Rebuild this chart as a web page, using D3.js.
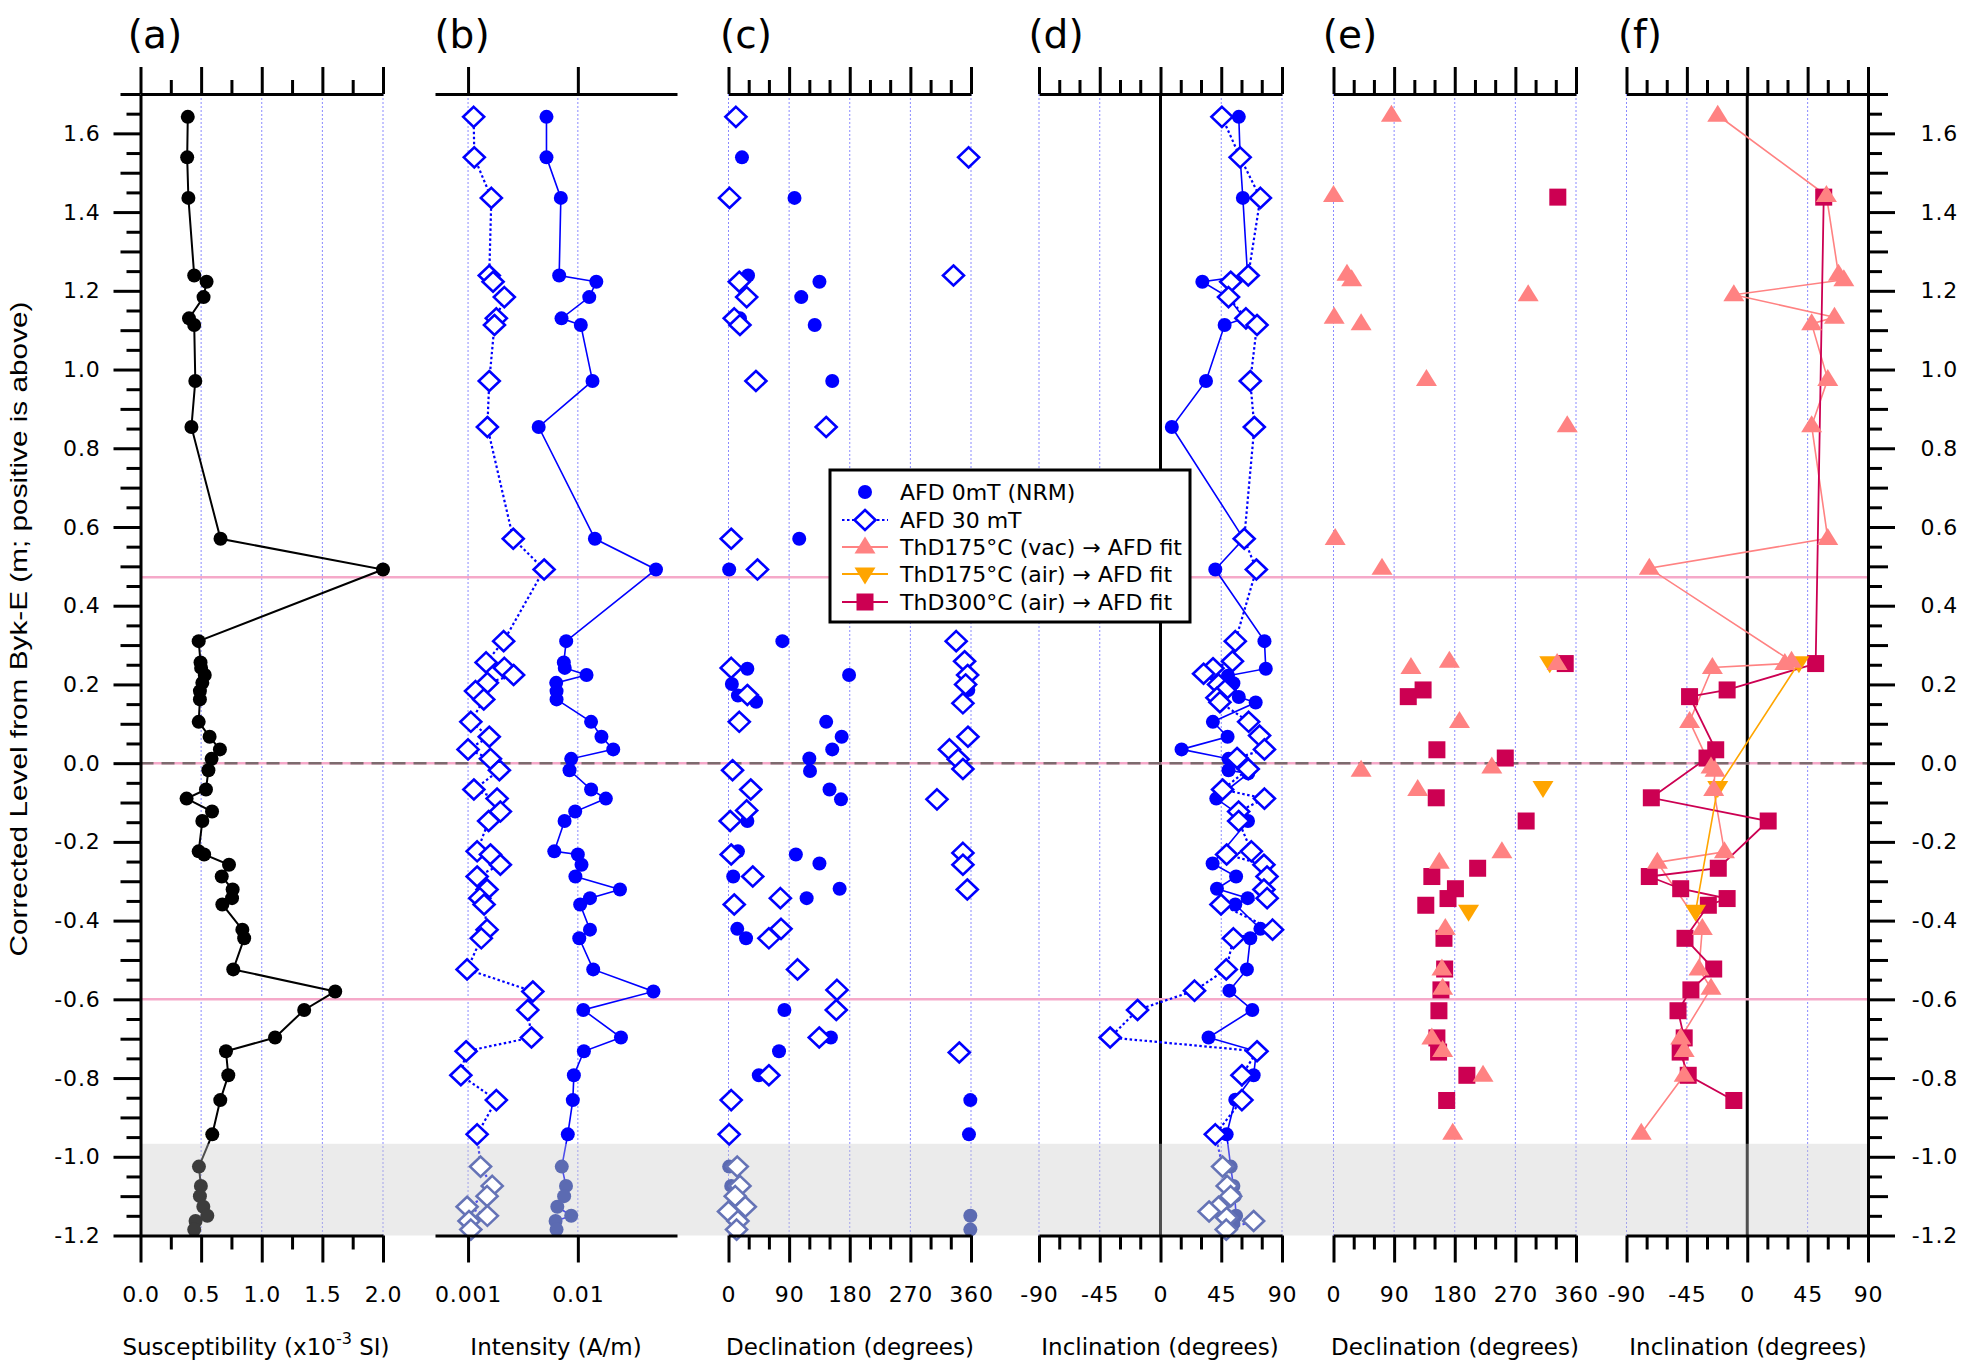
<!DOCTYPE html>
<html><head><meta charset="utf-8">
<script src="https://cdn.jsdelivr.net/npm/d3@7"></script>
<style>body{margin:0;background:#fff}svg{display:block}</style>
</head><body>
<script>
// ---------------- DATA ----------------
const depth = [1.642,1.539,1.436,1.239,1.223,1.184,1.130,1.113,0.971,0.854,0.570,0.492,0.310,0.256,0.242,0.224,0.204,0.183,0.162,0.105,0.067,0.035,0.011,-0.018,-0.067,-0.090,-0.123,-0.147,-0.224,-0.232,-0.258,-0.288,-0.321,-0.343,-0.359,-0.423,-0.445,-0.524,-0.580,-0.627,-0.697,-0.732,-0.793,-0.856,-0.943,-1.025,-1.074,-1.100,-1.127,-1.150,-1.163,-1.185];
const susc = [0.39,0.385,0.395,0.443,0.545,0.52,0.40,0.443,0.452,0.42,0.66,2.00,0.48,0.495,0.50,0.53,0.51,0.49,0.49,0.48,0.57,0.655,0.586,0.56,0.54,0.38,0.59,0.51,0.48,0.525,0.73,0.67,0.76,0.755,0.675,0.84,0.855,0.765,1.606,1.35,1.11,0.705,0.724,0.658,0.592,0.482,0.498,0.49,0.518,0.551,0.454,0.443];
const intNRM = [0.00518,0.00518,0.0070,0.00676,0.01473,0.0127,0.0071,0.01064,0.0136,0.0044,0.0143,0.0515,0.00783,0.00745,0.0076,0.012,0.00635,0.0064,0.0064,0.0132,0.0164,0.021,0.0087,0.0084,0.0132,0.018,0.00946,0.00757,0.0061,0.0100,0.0108,0.0095,0.0242,0.0129,0.0105,0.0129,0.0103,0.0138,0.0488,0.0112,0.0247,0.01135,0.0092,0.0090,0.0081,0.00714,0.0078,0.0075,0.0065,0.0087,0.00627,0.0064];
const int30 = [0.001125,0.00114,0.00163,0.00156,0.00169,0.00214,0.00181,0.00174,0.00156,0.0015,0.00258,0.00493,0.00211,0.00146,0.00214,0.0026,0.0015,0.00117,0.00139,0.00106,0.00156,0.0010,0.0016,0.00193,0.00113,0.00184,0.00197,0.00154,0.00121,0.0016,0.00197,0.00121,0.00149,0.00128,0.0014,0.00149,0.00132,0.00098,0.00389,0.0035,0.00378,0.00096,0.00086,0.00181,0.00121,0.0013,0.00166,0.00149,0.00098,0.0015,0.00102,0.00106];

// [depth, declination]
const decNRM = [[1.642,11],[1.539,20],[1.436,98],[1.239,29],[1.223,135],[1.184,108],[1.130,17],[1.113,128],[0.971,154],[0.854,145],[0.570,105],[0.492,1],[0.310,80],[0.240,28],[0.224,179],[0.201,5],[0.186,356],[0.172,14],[0.156,41],[0.105,145],[0.067,168],[0.035,154],[0.012,120],[-0.020,121],[-0.067,150],[-0.092,167],[-0.147,28],[-0.224,14],[-0.232,100],[-0.255,135],[-0.288,7],[-0.319,165],[-0.343,116],[-0.421,13],[-0.445,26],[-0.627,83],[-0.697,152],[-0.732,75],[-0.793,45],[-0.856,359],[-0.943,357],[-1.025,1],[-1.074,4],[-1.100,9],[-1.127,6],[-1.150,359],[-1.185,359]];
const dec30 = [[1.642,11],[1.539,356.5],[1.436,1.5],[1.239,334],[1.223,16],[1.184,27],[1.130,8.5],[1.113,17],[0.971,40.7],[0.854,145],[0.570,4],[0.492,43],[0.310,338],[0.259,350.5],[0.242,4],[0.224,355],[0.200,352],[0.173,28],[0.152,348],[0.105,16],[0.067,355.5],[0.035,328],[0.010,341],[-0.015,348],[-0.018,6],[-0.067,33],[-0.092,309.5],[-0.120,27],[-0.147,2.5],[-0.228,348],[-0.232,4],[-0.258,348],[-0.288,36],[-0.321,354.5],[-0.343,77],[-0.359,8.5],[-0.421,78],[-0.445,60],[-0.524,102.5],[-0.576,161],[-0.627,160],[-0.697,134.7],[-0.735,342.6],[-0.793,60],[-0.856,4],[-0.943,1],[-1.025,13],[-1.074,17],[-1.100,10],[-1.127,25],[-1.139,0],[-1.163,14],[-1.185,12]];
// [depth, inclination]
const incNRM = [[1.642,58],[1.539,59],[1.436,61],[1.239,64.5],[1.223,31],[1.184,50],[1.130,62],[1.113,47.5],[0.971,33.7],[0.854,8.4],[0.570,61.6],[0.492,40.6],[0.310,77],[0.240,78],[0.222,50],[0.203,54],[0.168,58],[0.154,70.5],[0.105,38.8],[0.067,49.7],[0.035,15.6],[0.011,50.4],[-0.018,50.4],[-0.026,65],[-0.090,41.3],[-0.147,64.8],[-0.255,38.6],[-0.288,56],[-0.319,41.8],[-0.343,64.6],[-0.359,55.4],[-0.421,74],[-0.445,66.5],[-0.524,64],[-0.578,51],[-0.627,68],[-0.697,35.6],[-0.732,71],[-0.793,69],[-0.855,55.4],[-0.943,49],[-1.025,52],[-1.074,54],[-1.100,55],[-1.150,56],[-1.170,54]];
const inc30 = [[1.642,45.5],[1.539,59],[1.436,74],[1.239,65],[1.223,52],[1.184,50.4],[1.130,63.3],[1.113,71.5],[0.971,66.5],[0.854,69.5],[0.570,62],[0.492,71],[0.310,55.4],[0.259,53.3],[0.241,38.9],[0.227,31.9],[0.200,43],[0.185,47.8],[0.166,41.8],[0.155,44],[0.105,65.3],[0.070,73.4],[0.035,77],[0.013,56.7],[-0.015,65],[-0.067,46],[-0.090,77],[-0.123,57.9],[-0.147,57.9],[-0.224,67.3],[-0.232,49],[-0.258,76.6],[-0.288,78.9],[-0.321,76.6],[-0.343,79],[-0.359,44.8],[-0.423,83],[-0.445,54],[-0.524,48.7],[-0.578,25.2],[-0.627,-17],[-0.697,-37.3],[-0.732,71.5],[-0.793,60.3],[-0.856,60.3],[-0.943,40.6],[-1.025,46],[-1.074,49.4],[-1.100,52],[-1.127,43],[-1.139,36],[-1.155,49],[-1.163,69],[-1.185,48.7]];

// ThD -> AFD fits: [depth, declination, inclination]
const thVac = [[1.646,86,-22],[1.442,0,59],[1.242,20,68],[1.228,27,72],[1.190,289,-10],[1.133,1,65],[1.116,41,48],[0.975,138,60],[0.857,347,48],[0.571,2.5,60],[0.495,72,-73],[0.259,172,33],[0.253,332,28],[0.243,115,-26],[0.106,187,-43],[-0.010,235,-27],[-0.018,41,-24],[-0.067,125,-25],[-0.225,250,-17],[-0.252,157,-67],[-0.420,166,-33.5],[-0.523,161,-36],[-0.572,162,-27],[-0.698,146,-49.6],[-0.730,162,-47],[-0.793,222,-47],[-0.940,177,-79]];
const thAir175 = [[0.255,321,38.5],[-0.062,311,-22],[-0.376,200.5,-38.5]];
const thAir300 = [[1.438,333,57],[0.253,344,51],[0.186,133,-15],[0.169,111,-43],[0.034,153.5,-23.5],[0.013,255,-30],[-0.088,152.5,-71.5],[-0.147,286,15.6],[-0.267,214,-21.6],[-0.288,146,-73],[-0.319,181,-49.6],[-0.344,170,-15],[-0.361,137,-29],[-0.445,164,-46.4],[-0.523,165,-25],[-0.576,159.5,-42],[-0.629,156.5,-51.6],[-0.698,153.5,-47],[-0.734,156,-50],[-0.793,198,-44],[-0.857,168,-10]];

const pinkLevels = [0.472, -0.6];
const dashedLevels = [0];
const bandRange = [-1.2, -0.967];

const tickSus = [0, 0.5, 1, 1.5, 2];
const tickSusMinor = [0.25, 0.75, 1.25, 1.75];
const tickInt = [0.001, 0.01];
const tickDec = [0, 90, 180, 270, 360];
const tickDecMinor = [30, 60, 120, 150, 210, 240, 300, 330];
const tickInc = [-90, -45, 0, 45, 90];
const tickIncMinor = [-75, -60, -30, -15, 15, 30, 60, 75];

const panelLetters = ["(a)","(b)","(c)","(d)","(e)","(f)"];
const axisTitles = ["Susceptibility (x10", "Intensity (A/m)", "Declination (degrees)", "Inclination (degrees)", "Declination (degrees)", "Inclination (degrees)"];
const yTitle = "Corrected Level from Byk-E (m; positive is above)";
const legendLabels = ["AFD 0mT (NRM)", "AFD 30 mT", "ThD175°C (vac) \u2192 AFD fit", "ThD175°C (air) \u2192 AFD fit", "ThD300°C (air) \u2192 AFD fit"];

// ---------------- LAYOUT ----------------
const W = 1961, H = 1362;
const FONT = '"DejaVu Sans", Verdana, sans-serif';
const BLUE = "#0000ff", BAND_BLUE = "#5c6bb2", SALMON = "#ff8282", ORANGE = "#ffa500", CRIMSON = "#cc0052";
const GRID = "#8a8aff", PINK = "#f5a9c9";
const yTop = 94, yBot = 1235.5;

const svg = d3.select("body").append("svg").attr("width", W).attr("height", H);
const y = d3.scaleLinear().domain([-1.2, 1.7]).range([yBot, yTop]);
const X = {
  a: d3.scaleLinear().domain([0, 2]).range([140.5, 383]),
  b: d3.scaleLog().domain([0.0005, 0.08]).range([435, 677]),
  c: d3.scaleLinear().domain([0, 360]).range([728.5, 971]),
  d: d3.scaleLinear().domain([-90, 90]).range([1039, 1282]),
  e: d3.scaleLinear().domain([0, 360]).range([1333.5, 1576]),
  f: d3.scaleLinear().domain([-90, 90]).range([1626.5, 1868])
};
const keys = ["a","b","c","d","e","f"];
const inBand = dep => dep < bandRange[1];

// grid
const gGrid = svg.append("g");
function vgrid(sc, vals) {
  gGrid.selectAll(null).data(vals).enter().append("line")
    .attr("x1", d => sc(d)).attr("x2", d => sc(d)).attr("y1", yTop).attr("y2", yBot)
    .attr("stroke", GRID).attr("stroke-width", 1).attr("stroke-dasharray", "2,2");
}
vgrid(X.a, [0.5, 1, 1.5, 2]);
vgrid(X.b, tickInt);
vgrid(X.c, tickDec);
vgrid(X.d, [-90, -45, 45, 90]);
vgrid(X.e, tickDec);
vgrid(X.f, [-90, -45, 45]);

// zero lines
[X.d, X.f].forEach(sc => svg.append("line").attr("x1", sc(0)).attr("x2", sc(0))
  .attr("y1", yTop).attr("y2", yBot).attr("stroke", "#000").attr("stroke-width", 3));

// horizontal reference lines
const xL = X.a.range()[0], xR = X.f.range()[1];
svg.selectAll(null).data(pinkLevels.concat(dashedLevels)).enter().append("line")
  .attr("x1", xL).attr("x2", xR).attr("y1", d => y(d)).attr("y2", d => y(d))
  .attr("stroke", PINK).attr("stroke-width", 2.5);
svg.selectAll(null).data(dashedLevels).enter().append("line")
  .attr("x1", xL).attr("x2", xR).attr("y1", d => y(d)).attr("y2", d => y(d))
  .attr("stroke", "#7d6a6e").attr("stroke-width", 2.5).attr("stroke-dasharray", "13,8");

// ---------------- DATA LINES ----------------
const gLines = svg.append("g").attr("fill", "none");
function pathOf(data, sc, xv, dep, color, width, dash) {
  const line = d3.line().x(d => sc(xv(d))).y(d => y(dep(d)));
  gLines.append("path").datum(data).attr("d", line).attr("stroke", color)
    .attr("stroke-width", width).attr("stroke-dasharray", dash || null);
}
const idx = d3.range(depth.length);
pathOf(idx, X.a, i => susc[i], i => depth[i], "#000", 2);
pathOf(idx, X.b, i => intNRM[i], i => depth[i], BLUE, 1.6);
pathOf(idx, X.b, i => int30[i], i => depth[i], BLUE, 2.2, "2.5,2.5");
pathOf(incNRM, X.d, d => d[1], d => d[0], BLUE, 1.6);
pathOf(inc30, X.d, d => d[1], d => d[0], BLUE, 2.2, "2.5,2.5");
pathOf(thVac, X.f, d => d[2], d => d[0], SALMON, 1.6);
pathOf(thAir300, X.f, d => d[2], d => d[0], CRIMSON, 1.8);
pathOf(thAir175, X.f, d => d[2], d => d[0], ORANGE, 1.6);

// gray band (semi-transparent overlay)
svg.append("rect").attr("x", xL).attr("width", xR - xL)
  .attr("y", y(bandRange[1])).attr("height", y(bandRange[0]) - y(bandRange[1]))
  .attr("fill", "#cccccc").attr("opacity", 0.39);

// ---------------- MARKERS ----------------
const gM = svg.append("g");
const diamond = "M0,-10L10.5,0L0,10L-10.5,0Z";
const triUp = "M0,-10.5L10.5,6.5L-10.5,6.5Z";
const triDown = "M0,10.5L10.5,-6.5L-10.5,-6.5Z";
function circles(data, sc, xv, dep, color, bandColor) {
  gM.selectAll(null).data(data).enter().append("circle")
    .attr("cx", d => sc(xv(d))).attr("cy", d => y(dep(d))).attr("r", 7)
    .attr("fill", d => inBand(dep(d)) ? bandColor : color);
}
function diamonds(data, sc, xv, dep) {
  gM.selectAll(null).data(data).enter().append("path").attr("d", diamond)
    .attr("transform", d => `translate(${sc(xv(d))},${y(dep(d))})`)
    .attr("fill", "#fff").attr("stroke", d => inBand(dep(d)) ? "#6573b6" : BLUE).attr("stroke-width", 2.6);
}
function shapes(data, sc, xv, dep, path, color) {
  gM.selectAll(null).data(data).enter().append("path").attr("d", path)
    .attr("transform", d => `translate(${sc(xv(d))},${y(dep(d))})`).attr("fill", color);
}
function squares(data, sc, xv, dep, color) {
  gM.selectAll(null).data(data).enter().append("rect")
    .attr("x", d => sc(xv(d)) - 8.5).attr("y", d => y(dep(d)) - 8.5)
    .attr("width", 17).attr("height", 17).attr("fill", color);
}
// (a)
circles(idx, X.a, i => susc[i], i => depth[i], "#000", "#3c3c3c");
// (b)
circles(idx, X.b, i => intNRM[i], i => depth[i], BLUE, BAND_BLUE);
diamonds(idx, X.b, i => int30[i], i => depth[i]);
// (c)
circles(decNRM, X.c, d => d[1], d => d[0], BLUE, BAND_BLUE);
diamonds(dec30, X.c, d => d[1], d => d[0]);
// (d)
circles(incNRM, X.d, d => d[1], d => d[0], BLUE, BAND_BLUE);
diamonds(inc30, X.d, d => d[1], d => d[0]);
// (e)
squares(thAir300, X.e, d => d[1], d => d[0], CRIMSON);
shapes(thAir175, X.e, d => d[1], d => d[0], triDown, ORANGE);
shapes(thVac, X.e, d => d[1], d => d[0], triUp, SALMON);
// (f)
squares(thAir300, X.f, d => d[2], d => d[0], CRIMSON);
shapes(thAir175, X.f, d => d[2], d => d[0], triDown, ORANGE);
shapes(thVac, X.f, d => d[2], d => d[0], triUp, SALMON);

// ---------------- AXES ----------------
function styleAxis(g) {
  g.attr("font-family", FONT).attr("font-size", 22);
  g.selectAll(".domain").attr("stroke-width", 3).attr("stroke", "#000");
  g.selectAll(".tick line").attr("stroke-width", 3).attr("stroke", "#000");
  g.selectAll(".tick text").attr("fill", "#000").attr("letter-spacing", "0.8px");
}
const fmts = {
  a: d => d.toFixed(1),
  b: d => d === 0.001 ? "0.001" : "0.01",
  c: d => String(d), d: d => String(d), e: d => String(d), f: d => String(d)
};
const majors = { a: tickSus, b: tickInt, c: tickDec, d: tickInc, e: tickDec, f: tickInc };
const minorsT = { a: tickSusMinor, b: [], c: tickDecMinor, d: tickIncMinor, e: tickDecMinor, f: tickIncMinor };
keys.forEach(k => {
  const sc = X[k];
  // top
  const gt = svg.append("g").attr("transform", `translate(0,${yTop})`);
  gt.call(d3.axisTop(sc).tickValues(majors[k]).tickSize(27).tickSizeOuter(0).tickFormat(""));
  styleAxis(gt);
  if (minorsT[k].length) {
    const gtm = svg.append("g").attr("transform", `translate(0,${yTop})`);
    gtm.call(d3.axisTop(sc).tickValues(minorsT[k]).tickSize(14).tickSizeOuter(0).tickFormat(""));
    gtm.select(".domain").remove(); styleAxis(gtm);
  }
  // bottom
  const gb = svg.append("g").attr("transform", `translate(0,${yBot})`);
  gb.call(d3.axisBottom(sc).tickValues(majors[k]).tickSize(27).tickSizeOuter(0).tickPadding(24).tickFormat(fmts[k]));
  styleAxis(gb);
  if (minorsT[k].length) {
    const gbm = svg.append("g").attr("transform", `translate(0,${yBot})`);
    gbm.call(d3.axisBottom(sc).tickValues(minorsT[k]).tickSize(14).tickSizeOuter(0).tickFormat(""));
    gbm.select(".domain").remove(); styleAxis(gbm);
  }
});

// vertical axes
const yk = d3.range(-24, 35);
const yMaj = yk.filter(k => k % 4 === 0).map(k => +(k * 0.05).toFixed(2));
const yMed = yk.filter(k => k % 4 !== 0 && k % 2 === 0).map(k => +(k * 0.05).toFixed(2));
const yMin = yk.filter(k => k % 2 !== 0).map(k => +(k * 0.05).toFixed(2));
const yfmt = d => d.toFixed(1);
function vAxis(x0, axisFn, labels) {
  const g = svg.append("g").attr("transform", `translate(${x0},0)`);
  g.call(axisFn(y).tickValues(yMaj).tickSize(27).tickSizeOuter(0).tickPadding(13).tickFormat(labels ? yfmt : ""));
  styleAxis(g);
  const g2 = svg.append("g").attr("transform", `translate(${x0},0)`);
  g2.call(axisFn(y).tickValues(yMed).tickSize(20).tickSizeOuter(0).tickFormat(""));
  g2.select(".domain").remove(); styleAxis(g2);
  const g3 = svg.append("g").attr("transform", `translate(${x0},0)`);
  g3.call(axisFn(y).tickValues(yMin).tickSize(14).tickSizeOuter(0).tickFormat(""));
  g3.select(".domain").remove(); styleAxis(g3);
  return g;
}
vAxis(X.a.range()[0], d3.axisLeft, true);
const gr = vAxis(X.f.range()[1], d3.axisRight, true);
gr.selectAll(".tick text").attr("text-anchor", "end").attr("x", 90);

// ---------------- TEXT ----------------
const letterX = [155, 462, 746, 1056, 1350, 1640];
svg.selectAll(null).data(panelLetters).enter().append("text")
  .attr("x", (d, i) => letterX[i]).attr("y", 48).attr("text-anchor", "middle")
  .attr("font-family", FONT).attr("font-size", 39).text(d => d);

const titleX = [256, 556, 850, 1160, 1455, 1748];
axisTitles.forEach((t, i) => {
  const tx = svg.append("text").attr("x", titleX[i]).attr("y", 1355).attr("text-anchor", "middle")
    .attr("font-family", FONT).attr("font-size", 23);
  tx.append("tspan").text(t);
  if (i === 0) {
    tx.append("tspan").attr("dy", -11).attr("font-size", 16).text("-3");
    tx.append("tspan").attr("dy", 11).text(" SI)");
  }
});

svg.append("text").attr("transform", "translate(27,629) rotate(-90)")
  .attr("text-anchor", "middle").attr("font-family", '"Liberation Sans", Arial, sans-serif')
  .attr("font-size", 24).attr("textLength", 655).attr("lengthAdjust", "spacingAndGlyphs")
  .text(yTitle);

// ---------------- LEGEND ----------------
const lg = svg.append("g");
lg.append("rect").attr("x", 830).attr("y", 470).attr("width", 360).attr("height", 152)
  .attr("fill", "#fff").attr("stroke", "#000").attr("stroke-width", 3);
const rowY = [492, 520, 547, 574, 602];
const sx = 865;
// row 0: circle
lg.append("circle").attr("cx", sx).attr("cy", rowY[0]).attr("r", 7).attr("fill", BLUE);
// row 1: dotted + diamond
lg.append("line").attr("x1", 842).attr("x2", 888).attr("y1", rowY[1]).attr("y2", rowY[1])
  .attr("stroke", BLUE).attr("stroke-width", 2.2).attr("stroke-dasharray", "2.5,2.5");
lg.append("path").attr("d", diamond).attr("transform", `translate(${sx},${rowY[1]})`)
  .attr("fill", "#fff").attr("stroke", BLUE).attr("stroke-width", 2.6);
// rows 2-4
[[SALMON, triUp], [ORANGE, triDown], [CRIMSON, null]].forEach(([c, p], j) => {
  const ry = rowY[j + 2];
  lg.append("line").attr("x1", 842).attr("x2", 888).attr("y1", ry).attr("y2", ry)
    .attr("stroke", c).attr("stroke-width", 1.8);
  if (p) lg.append("path").attr("d", p).attr("transform", `translate(${sx},${ry})`).attr("fill", c);
  else lg.append("rect").attr("x", sx - 8.5).attr("y", ry - 8.5).attr("width", 17).attr("height", 17).attr("fill", c);
});
lg.selectAll(null).data(legendLabels).enter().append("text")
  .attr("x", 900).attr("y", (d, i) => rowY[i] + 8)
  .attr("font-family", FONT).attr("font-size", 22).text(d => d);
</script>
</body></html>
